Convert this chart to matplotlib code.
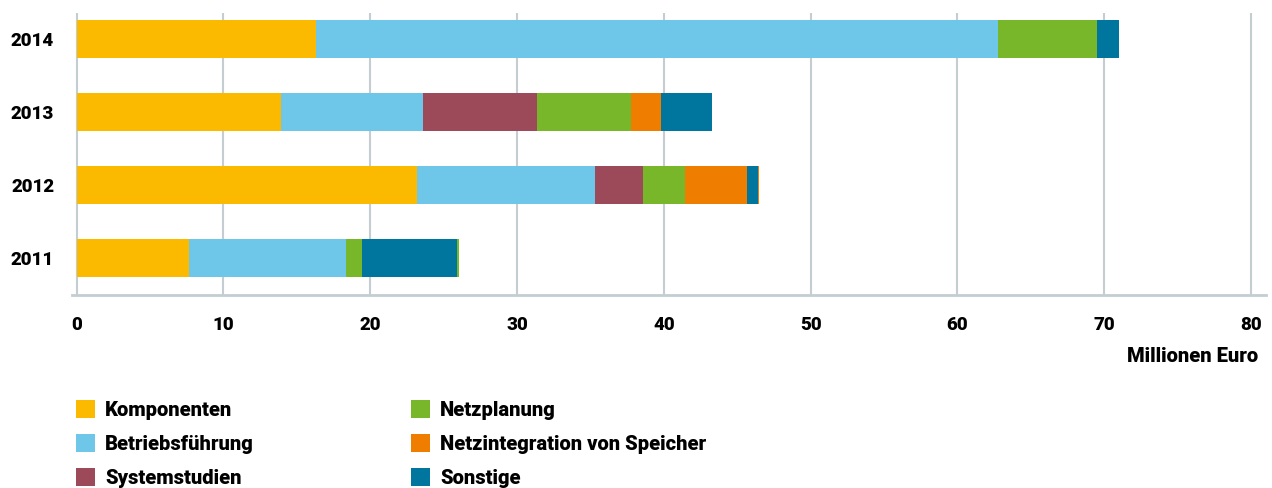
import numpy as np
import matplotlib.pyplot as plt
from matplotlib.patches import Rectangle

plt.rcParams['font.family'] = ['Roboto', 'DejaVu Sans']

# Funding per year and topic (Millionen Euro)
years = ['2011', '2012', '2013', '2014']
categories = ['Komponenten', 'Betriebsführung', 'Systemstudien',
              'Netzplanung', 'Netzintegration von Speicher', 'Sonstige']
komponenten = [7.66, 23.15, 13.93, 16.30]
betriebsfuehrung = [10.72, 12.14, 9.64, 46.48]
systemstudien = [0.0, 3.31, 7.77, 0.0]
netzplanung = [1.09, 2.86, 6.40, 6.74]
speicher = [0.0, 4.23, 2.04, 0.0]
sonstige = [6.41, 0.69, 3.47, 1.51]
# small remainder segments at the end of 2011 / 2012
rest = [0.14, 0.08, 0.0, 0.0]

colors = ['#FBBA00', '#6EC7E9', '#9C4A5A', '#78B72A', '#EF7D00', '#00759E']
rest_colors = ['#78B72A', '#EF7D00', '#78B72A', '#78B72A']
grid_color = '#C3CDD2'

series = [komponenten, betriebsfuehrung, systemstudien, netzplanung, speicher, sonstige]

fig = plt.figure(figsize=(12.72, 4.88), dpi=100)
ax = fig.add_axes([0.0568, 0.3955, 0.9383, 0.578])

y = np.arange(len(years))
left = np.zeros(len(years))
for vals, col in zip(series, colors):
    ax.barh(y, vals, left=left, height=0.52, color=col, linewidth=0, zorder=3)
    left += np.array(vals)
ax.barh(y, rest, left=left, height=0.52, color=rest_colors, linewidth=0, zorder=3)

ax.set_xlim(-0.3, 81)
ax.set_ylim(-0.5, 3.36)
ax.set_xticks(np.arange(0, 81, 10))
ax.set_yticks(y)
ax.set_yticklabels(years)
ax.xaxis.grid(True, color=grid_color, linewidth=1.5, zorder=0)
ax.tick_params(axis='both', length=0, labelsize=13.5)
ax.tick_params(axis='x', pad=15)
ax.tick_params(axis='y', pad=13)
for lbl in ax.get_xticklabels() + ax.get_yticklabels():
    lbl.set_fontweight('heavy')
for s in ['top', 'right', 'left']:
    ax.spines[s].set_visible(False)
ax.spines['bottom'].set_color(grid_color)
ax.spines['bottom'].set_linewidth(2)

fig.text(1258 / 1272, 1 - 356 / 488, 'Millionen Euro', ha='right', va='center',
         fontsize=14.5, fontweight='heavy')

# legend in two columns
col_x = [76, 411]
row_y = [409, 443, 477]
for i, (name, col) in enumerate(zip(categories, colors)):
    cx = col_x[i // 3]
    cy = row_y[i % 3]
    fig.patches.append(Rectangle((cx / 1272, 1 - (cy + 9) / 488), 19 / 1272, 18 / 488,
                                 transform=fig.transFigure, color=col, linewidth=0))
    fig.text((cx + 29) / 1272, 1 - (cy + 1) / 488, name, ha='left', va='center',
             fontsize=14.5, fontweight='heavy')

fig.savefig('out.png', dpi=100)
